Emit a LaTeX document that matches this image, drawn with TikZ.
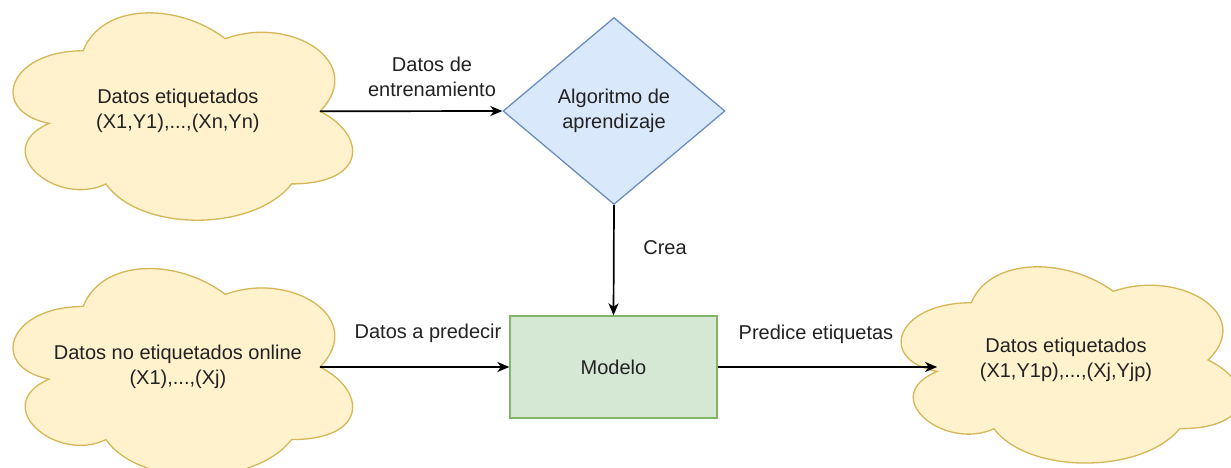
\documentclass[tikz,border=0pt]{standalone}
\usepackage{fontspec}
\setmainfont{Liberation Sans}
\usetikzlibrary{shapes.geometric,arrows.meta}
\definecolor{cloudfill}{HTML}{FFF2CC}
\definecolor{cloudline}{HTML}{D6B656}
\definecolor{algfill}{HTML}{DAE8FC}
\definecolor{algline}{HTML}{6C8EBF}
\definecolor{modfill}{HTML}{D5E8D4}
\definecolor{modline}{HTML}{82B366}
\definecolor{txt}{HTML}{222222}
\tikzset{
  basefont/.style={font=\fontsize{20pt}{25pt}\selectfont, text=txt, align=center},
  cloudshape/.style={fill=cloudfill, draw=cloudline, line width=1.3pt},
  cloudtext/.style={basefont, inner sep=0pt},
  algbox/.style={basefont, diamond, aspect=1.19, draw=algline, fill=algfill, line width=1.3pt,
    minimum width=222pt, minimum height=187pt, inner sep=0pt},
  modbox/.style={basefont, rectangle, draw=modline, fill=modfill, line width=1.3pt,
    minimum width=207pt, minimum height=102pt, inner sep=0pt},
  lbl/.style={basefont, inner sep=0pt},
  conn/.style={line width=1.7pt, draw=black, -{Stealth[length=12pt,width=10pt,inset=3.5pt]}}
}
\newcommand\dcloud[6]{%
  \begin{scope}[shift={(#2,#3)}, xscale=#4, yscale=#5]
    \path[cloudshape] (0.25,0.25) .. controls (0.05,0.25) and (0,0.5) .. (0.16,0.55)
      .. controls (0,0.66) and (0.18,0.9) .. (0.31,0.8)
      .. controls (0.4,1) and (0.7,1) .. (0.8,0.8)
      .. controls (1,0.8) and (1,0.6) .. (0.875,0.5)
      .. controls (1,0.3) and (0.8,0.1) .. (0.625,0.2)
      .. controls (0.5,0.05) and (0.3,0.05) .. (0.25,0.25) -- cycle;
    \coordinate (#1-r) at (0.875,0.5);
    \coordinate (#1-l) at (0.16,0.55);
    \node[cloudtext] (#1) at (0.5,0.5) {#6};
  \end{scope}%
}
\begin{document}
\begin{tikzpicture}[x=1pt,y=-1pt]
  \useasboundingbox (0,0) rectangle (1231,468);
  \clip (0,0) rectangle (1231,468);
  \fill[white] (0,0) rectangle (1231,468);

  \dcloud{c1}{-11.6}{-9.7}{379}{242}{Datos etiquetados\\(X1,Y1),...,(Xn,Yn)}
  \dcloud{c2}{-11.6}{246}{379}{242}{Datos no etiquetados online\\(X1),...,(Xj)}
  \dcloud{c3}{876.5}{245.5}{379}{229}{Datos etiquetados\\(X1,Y1p),...,(Xj,Yjp)}

  \node[algbox] (alg) at (614,111) {Algoritmo de\\aprendizaje};
  \node[modbox] (mod) at (613.5,367) {Modelo};

  \node[lbl] (l1) at (432,77) {Datos de\\entrenamiento};
  \node[lbl] (l2) at (665,248) {Crea};
  \node[lbl] (l3) at (428,333) {Datos a predecir};
  \node[lbl] (l4) at (816,334) {Predice etiquetas};

  \draw[conn] (c1-r) -- (alg.west);
  \draw[conn] (alg.south) -- (mod.north);
  \draw[conn] (c2-r) -- (mod.west);
  \draw[conn] (mod.east) -- (mod.east -| c3-l);
\end{tikzpicture}
\end{document}
